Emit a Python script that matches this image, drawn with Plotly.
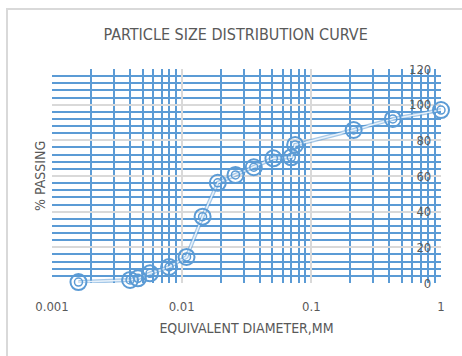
import plotly.graph_objects as go

# Data
diameter_mm = [0.0016, 0.0040, 0.0046, 0.0057, 0.0080, 0.0109, 0.0145, 0.019,
               0.026, 0.036, 0.051, 0.070, 0.075, 0.212, 0.425, 1.0]
percent_passing = [0.5, 1.7, 2.6, 5.4, 9.0, 14.6, 37.2, 56.2,
                   60.6, 64.9, 69.9, 70.5, 77.4, 85.8, 92.0, 97.0]

x_tick_vals = [0.001, 0.01, 0.1, 1]
x_tick_text = ["0.001", "0.01", "0.1", "1"]
y_tick_vals = [0, 20, 40, 60, 80, 100, 120]

title_text = "PARTICLE SIZE DISTRIBUTION CURVE"
x_title = "EQUIVALENT DIAMETER,MM"
y_title = "% PASSING"

BLUE = "#5b9bd5"
GREY = "#d9d9d9"
TXT = "#595959"
FONT = "Liberation Sans Narrow, DejaVu Sans Condensed, Lato, sans-serif"

fig = go.Figure()
# double-line look for the connector
fig.add_trace(go.Scatter(x=diameter_mm, y=percent_passing, mode="lines",
                         line=dict(color="rgba(91,155,213,0.55)", width=4),
                         hoverinfo="skip", showlegend=False, cliponaxis=False))
fig.add_trace(go.Scatter(x=diameter_mm, y=percent_passing, mode="lines",
                         line=dict(color="rgba(235,243,251,0.95)", width=1.5),
                         hoverinfo="skip", showlegend=False, cliponaxis=False))
# double-ring markers
fig.add_trace(go.Scatter(x=diameter_mm, y=percent_passing, mode="markers",
                         marker=dict(symbol="circle-open", size=16, color=BLUE,
                                     line=dict(width=2, color=BLUE)),
                         showlegend=False, cliponaxis=False))
fig.add_trace(go.Scatter(x=diameter_mm, y=percent_passing, mode="markers",
                         marker=dict(symbol="circle-open", size=8, color=BLUE,
                                     line=dict(width=1.5, color=BLUE)),
                         showlegend=False, cliponaxis=False))

L, R, T, B = 52, 21, 69, 73
W, H = 462, 356
pw = W - L - R
ph = H - T - B

fig.update_layout(
    width=W, height=H,
    margin=dict(l=L, r=R, t=T, b=B, pad=0),
    paper_bgcolor="white", plot_bgcolor="white",
    font=dict(family=FONT, color=TXT, size=12),
    title=dict(text=title_text, x=0.51, xanchor="center", y=1 - 34 / H, yanchor="middle",
               font=dict(family=FONT, size=16, color=TXT)),
    xaxis=dict(type="log", range=[-3, 0], tickvals=x_tick_vals, ticktext=x_tick_text,
               showgrid=True, gridcolor=GREY, gridwidth=2, zeroline=False,
               showline=False, ticks="outside", ticklen=11, tickcolor="rgba(0,0,0,0)",
               tickfont=dict(size=13, color=TXT),
               minor=dict(dtick="D1", showgrid=True, gridcolor=BLUE, gridwidth=2, ticks=""),
               title=dict(text=x_title, font=dict(size=14, color=TXT), standoff=10)),
    yaxis=dict(range=[0, 120], tickvals=y_tick_vals, showgrid=True, gridcolor=GREY, gridwidth=2,
               zeroline=False, showline=False, anchor="free", position=0.975, side="left",
               ticks="", tickfont=dict(size=13, color=TXT),
               minor=dict(dtick=4, showgrid=True, gridcolor=BLUE, gridwidth=2, ticks="")),
    shapes=[dict(type="rect", xref="paper", yref="paper",
                 x0=(7 - L) / pw, x1=(W + 10 - L) / pw,
                 y0=(H - B - (H + 10)) / ph, y1=(H - B - 9) / ph,
                 line=dict(color=GREY, width=2), fillcolor="rgba(0,0,0,0)", layer="below")],
    annotations=[dict(text=y_title, textangle=-90, xref="paper", yref="paper",
                      x=(40 - L) / pw, y=0.5, showarrow=False, xanchor="center", yanchor="middle",
                      font=dict(size=14, color=TXT))],
)

fig.write_html("out.html", config={"displayModeBar": False},
               post_script="document.body.style.margin='0px';")
